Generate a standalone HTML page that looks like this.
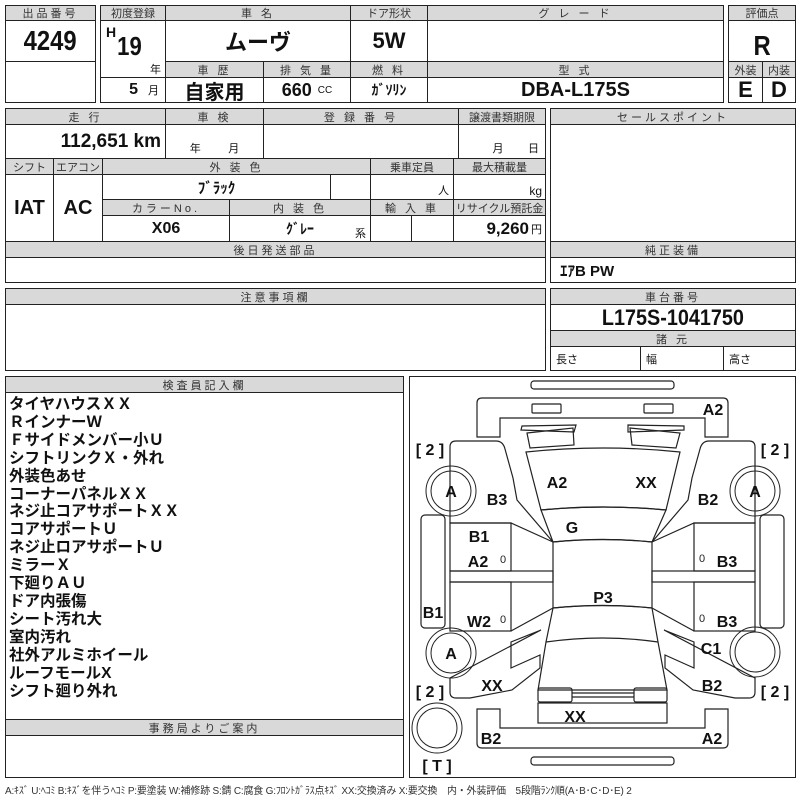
<!DOCTYPE html>
<html><head><meta charset="utf-8"><style>
*{margin:0;padding:0}
body{width:800px;height:800px;background:#fff;position:relative;overflow:hidden;font-family:"Liberation Sans","Noto Sans CJK JP",sans-serif;color:#111}
.c{position:absolute;border:1px solid #222;box-sizing:border-box;display:flex;align-items:center;justify-content:center;white-space:nowrap}
.h{background:#d9d9d9;font-size:11px;color:#333;letter-spacing:3px}
.v{font-weight:bold;font-size:20px}
.big{font-weight:bold;font-size:28px;transform:scaleX(.85)}
.t{position:absolute;white-space:nowrap}
.lst{position:absolute;left:9px;top:396px;font-size:15.5px;font-weight:bold;line-height:17.9px;font-family:"Liberation Sans","Noto Sans CJK JP",sans-serif}
</style></head><body>
<div class="c h" style="left:5px;top:5px;width:91px;height:16px">出品番号</div>
<div class="c" style="left:5px;top:20px;width:91px;height:42px"><span class="big">4249</span></div>
<div class="c" style="left:5px;top:61px;width:91px;height:42px"></div>
<div class="c h" style="left:100px;top:5px;width:66px;height:16px;letter-spacing:0">初度登録</div>
<div class="c h" style="left:165px;top:5px;width:186px;height:16px">車 名</div>
<div class="c h" style="left:350px;top:5px;width:78px;height:16px;letter-spacing:0">ドア形状</div>
<div class="c h" style="left:427px;top:5px;width:297px;height:16px">グ レ ー ド</div>
<div class="c" style="left:100px;top:20px;width:66px;height:58px"></div>
<div class="t" style="left:106px;top:24px;font-weight:bold;font-size:14px">H</div>
<div class="t" style="left:115px;top:31px;font-weight:bold;font-size:26px;transform:scaleX(.85)">19</div>
<div class="t" style="left:150px;top:61px;font-size:11px">年</div>
<div class="c" style="left:165px;top:20px;width:186px;height:42px"><span class="v" style="font-size:22px">ムーヴ</span></div>
<div class="c" style="left:350px;top:20px;width:78px;height:42px"><span class="v" style="font-size:22px">5W</span></div>
<div class="c" style="left:427px;top:20px;width:297px;height:42px"></div>
<div class="c h" style="left:165px;top:61px;width:99px;height:17px">車 歴</div>
<div class="c h" style="left:263px;top:61px;width:88px;height:17px">排 気 量</div>
<div class="c h" style="left:350px;top:61px;width:78px;height:17px">燃 料</div>
<div class="c h" style="left:427px;top:61px;width:297px;height:17px">型 式</div>
<div class="c" style="left:100px;top:77px;width:66px;height:26px;justify-content:flex-end;padding-right:6px"><span class="v" style="font-size:16px">5</span><span style="font-size:11px;margin-left:10px">月</span></div>
<div class="c" style="left:165px;top:77px;width:99px;height:26px"><span class="v">自家用</span></div>
<div class="c" style="left:263px;top:77px;width:88px;height:26px"><span class="v" style="font-size:18px">660</span><span style="font-size:10px;margin-left:6px">CC</span></div>
<div class="c" style="left:350px;top:77px;width:78px;height:26px"><span style="font-weight:bold;font-size:14px">ｶﾞｿﾘﾝ</span></div>
<div class="c" style="left:427px;top:77px;width:297px;height:26px"><span class="v">DBA-L175S</span></div>
<div class="c h" style="left:728px;top:5px;width:68px;height:16px;letter-spacing:0">評価点</div>
<div class="c" style="left:728px;top:20px;width:68px;height:42px;padding-top:10px"><span class="big">R</span></div>
<div class="c h" style="left:728px;top:61px;width:35px;height:17px;letter-spacing:0">外装</div>
<div class="c h" style="left:762px;top:61px;width:34px;height:17px;letter-spacing:0">内装</div>
<div class="c" style="left:728px;top:77px;width:35px;height:26px"><span class="v" style="font-size:22px">E</span></div>
<div class="c" style="left:762px;top:77px;width:34px;height:26px"><span class="v" style="font-size:22px">D</span></div>
<div class="c h" style="left:5px;top:108px;width:161px;height:17px">走 行</div>
<div class="c h" style="left:165px;top:108px;width:99px;height:17px">車 検</div>
<div class="c h" style="left:263px;top:108px;width:196px;height:17px">登 録 番 号</div>
<div class="c h" style="left:458px;top:108px;width:88px;height:17px;letter-spacing:0">譲渡書類期限</div>
<div class="c" style="left:5px;top:124px;width:161px;height:35px;justify-content:flex-end;padding-right:4px"><span class="v" style="font-size:19px">112,651 km</span></div>
<div class="c" style="left:165px;top:124px;width:99px;height:35px;align-items:flex-end;padding-bottom:2px;font-size:11px">年&nbsp;&nbsp;&nbsp;&nbsp;&nbsp;&nbsp;&nbsp;&nbsp;&nbsp;月</div>
<div class="c" style="left:263px;top:124px;width:196px;height:35px"></div>
<div class="c" style="left:458px;top:124px;width:88px;height:35px;align-items:flex-end;justify-content:flex-end;padding:0 6px 2px 0;font-size:11px">月&nbsp;&nbsp;&nbsp;&nbsp;&nbsp;&nbsp;&nbsp;&nbsp;日</div>
<div class="c h" style="left:5px;top:158px;width:49px;height:17px;letter-spacing:0">シフト</div>
<div class="c h" style="left:53px;top:158px;width:50px;height:17px;letter-spacing:0">エアコン</div>
<div class="c h" style="left:102px;top:158px;width:269px;height:17px">外 装 色</div>
<div class="c h" style="left:370px;top:158px;width:84px;height:17px;letter-spacing:0">乗車定員</div>
<div class="c h" style="left:453px;top:158px;width:93px;height:17px;letter-spacing:0">最大積載量</div>
<div class="c" style="left:5px;top:174px;width:49px;height:68px"><span class="v">IAT</span></div>
<div class="c" style="left:53px;top:174px;width:50px;height:68px"><span class="v">AC</span></div>
<div class="c" style="left:102px;top:174px;width:229px;height:26px"><span style="font-weight:bold;font-size:15px">ﾌﾞﾗｯｸ</span></div>
<div class="c" style="left:330px;top:174px;width:41px;height:26px"></div>
<div class="c" style="left:370px;top:174px;width:84px;height:26px;justify-content:flex-end;align-items:flex-end;padding:0 4px 1px 0;font-size:11px">人</div>
<div class="c" style="left:453px;top:174px;width:93px;height:26px;justify-content:flex-end;align-items:flex-end;padding:0 3px 1px 0;font-size:12px">kg</div>
<div class="c h" style="left:102px;top:199px;width:128px;height:17px">カラーNo.</div>
<div class="c h" style="left:229px;top:199px;width:142px;height:17px">内 装 色</div>
<div class="c h" style="left:370px;top:199px;width:84px;height:17px">輸 入 車</div>
<div class="c h" style="left:453px;top:199px;width:93px;height:17px;letter-spacing:0">リサイクル預託金</div>
<div class="c" style="left:102px;top:215px;width:128px;height:27px"><span style="font-weight:bold;font-size:16px">X06</span></div>
<div class="c" style="left:229px;top:215px;width:142px;height:27px"><span style="font-weight:bold;font-size:14px">ｸﾞﾚｰ</span></div>
<div class="t" style="left:355px;top:225px;font-size:11px">系</div>
<div class="c" style="left:370px;top:215px;width:42px;height:27px"></div>
<div class="c" style="left:411px;top:215px;width:43px;height:27px"></div>
<div class="c" style="left:453px;top:215px;width:93px;height:27px;justify-content:flex-end;padding-right:3px"><span class="v" style="font-size:17px">9,260</span><span style="font-size:11px;margin-left:2px">円</span></div>
<div class="c h" style="left:5px;top:241px;width:541px;height:17px">後日発送部品</div>
<div class="c" style="left:5px;top:257px;width:541px;height:26px"></div>
<div class="c h" style="left:550px;top:108px;width:246px;height:17px">セールスポイント</div>
<div class="c" style="left:550px;top:124px;width:246px;height:118px"></div>
<div class="c h" style="left:550px;top:241px;width:246px;height:17px">純正装備</div>
<div class="c" style="left:550px;top:257px;width:246px;height:26px;justify-content:flex-start;padding-left:9px"><span style="font-weight:bold;font-size:15px">ｴｱB PW</span></div>
<div class="c h" style="left:5px;top:288px;width:541px;height:17px">注意事項欄</div>
<div class="c" style="left:5px;top:304px;width:541px;height:67px"></div>
<div class="c h" style="left:550px;top:288px;width:246px;height:17px">車台番号</div>
<div class="c" style="left:550px;top:304px;width:246px;height:27px"><span class="v" style="font-size:22px;transform:scaleX(.9)">L175S-1041750</span></div>
<div class="c h" style="left:550px;top:330px;width:246px;height:17px">諸 元</div>
<div class="c" style="left:550px;top:346px;width:91px;height:25px;justify-content:flex-start;padding-left:5px;font-size:11px">長さ</div>
<div class="c" style="left:640px;top:346px;width:84px;height:25px;justify-content:flex-start;padding-left:5px;font-size:11px">幅</div>
<div class="c" style="left:723px;top:346px;width:73px;height:25px;justify-content:flex-start;padding-left:5px;font-size:11px">高さ</div>
<div class="c h" style="left:5px;top:376px;width:399px;height:17px">検査員記入欄</div>
<div class="c" style="left:5px;top:392px;width:399px;height:328px"></div>
<div class="lst">タイヤハウスＸＸ<br>Ｒインナー<span>Ｗ</span><br>Ｆサイドメンバー小Ｕ<br>シフトリンクＸ・外れ<br>外装色あせ<br>コーナーパネルＸＸ<br>ネジ止コアサポートＸＸ<br>コアサポートＵ<br>ネジ止ロアサポートＵ<br>ミラーＸ<br>下廻りＡＵ<br>ドア内張傷<br>シート汚れ大<br>室内汚れ<br>社外アルミホイール<br>ルーフモールX<br>シフト廻り外れ</div>
<div class="c h" style="left:5px;top:719px;width:399px;height:17px">事務局よりご案内</div>
<div class="c" style="left:5px;top:735px;width:399px;height:43px"></div>
<div class="c" style="left:409px;top:376px;width:387px;height:402px"></div>
<div class="t" style="left:5px;top:782px;font-size:10px;color:#333;letter-spacing:-0.2px">A:ｷｽﾞ U:ﾍｺﾐ B:ｷｽﾞを伴うﾍｺﾐ P:要塗装 W:補修跡 S:錆 C:腐食 G:ﾌﾛﾝﾄｶﾞﾗｽ点ｷｽﾞ XX:交換済み X:要交換　内・外装評価　5段階ﾗﾝｸ順(A･B･C･D･E) 2</div>
<svg style="position:absolute;left:0;top:0" width="800" height="800" viewBox="0 0 800 800" fill="none" stroke="#222" stroke-width="1.2">
<rect x="531" y="381" width="143" height="8" rx="3"/>
<path d="M477,437 V403 q0,-5 5,-5 H723 q5,0 5,5 V437 H705 V418 H500 V437 Z"/>
<rect x="532" y="404" width="29" height="9" rx="1"/>
<rect x="644" y="404" width="29" height="9" rx="1"/>
<path d="M522,426 L576,425 L574,432 L521,430 Z"/>
<path d="M527,433 L573,428 L574,445 L530,448 Z"/>
<path d="M628,425 L684,426 L684,430 L628,432 Z"/>
<path d="M630,428 L680,433 L676,448 L632,445 Z"/>
<path d="M526,452 Q603,444 680,452 L666,510 Q603,504 541,510 Z"/>
<path d="M541,510 Q603,504 666,510 L652,542 Q603,537 553,542 Z"/>
<path d="M553,542 Q603,537 652,542 L652,608 Q603,603 553,608 Z"/>
<path d="M553,608 Q603,603 652,608 L658,642 L667,690 L538,690 L546,642 Z"/>
<path d="M546,642 Q603,634 658,642"/>
<path d="M450,465 V447 q0,-6 6,-6 H496 q7,0 9,8 L513,478 L517,500 L553,542 L511,523 H450 Z"/>
<path d="M755,465 V447 q0,-6 -6,-6 H709 q-7,0 -9,8 L692,478 L688,500 L652,542 L694,523 H755 Z"/>
<rect x="450" y="523" width="61" height="48"/><rect x="450" y="571" width="103" height="11"/><rect x="450" y="582" width="61" height="49"/>
<path d="M511,631 L553,608"/>
<rect x="694" y="523" width="61" height="48"/><rect x="652" y="571" width="103" height="11"/><rect x="694" y="582" width="61" height="49"/>
<path d="M694,631 L652,608"/>
<rect x="421" y="515" width="24" height="113" rx="4"/><rect x="760" y="515" width="24" height="113" rx="4"/>
<path d="M450,678 V692 q0,6 6,6 H470 L512,690 L540,668 V655 L511,668 V642 L541,630 Z" />
<path d="M755,678 V692 q0,6 -6,6 H735 L693,690 L665,668 V655 L694,668 V642 L664,630 Z"/>
<path d="M477,709 H500 V728 H705 V709 H728 V743 q0,5 -5,5 H482 q-5,0 -5,-5 Z"/>
<rect x="538" y="688" width="34" height="14" rx="2"/><rect x="634" y="688" width="33" height="14" rx="2"/>
<path d="M572,693 H634 M572,697 H634"/>
<rect x="538" y="703" width="129" height="20"/>
<rect x="531" y="757" width="143" height="8" rx="3"/>
<g stroke-width="1"><circle cx="451" cy="491" r="25"/><circle cx="451" cy="491" r="20"/>
<circle cx="755" cy="491" r="25"/><circle cx="755" cy="491" r="20"/>
<circle cx="451" cy="653" r="25"/><circle cx="451" cy="653" r="20"/>
<circle cx="755" cy="652" r="25"/><circle cx="755" cy="652" r="20"/>
<circle cx="437" cy="728" r="25"/><circle cx="437" cy="728" r="20"/></g>
<g fill="#111" stroke="none" font-family="Liberation Sans, sans-serif" font-weight="bold" font-size="16" text-anchor="middle">
<text x="713" y="415">A2</text><text x="557" y="488">A2</text><text x="646" y="488">XX</text>
<text x="497" y="505">B3</text><text x="708" y="505">B2</text>
<text x="451" y="497">A</text><text x="755" y="497">A</text><text x="451" y="659">A</text>
<text x="572" y="533">G</text><text x="479" y="542">B1</text><text x="478" y="567">A2</text>
<text x="727" y="567">B3</text><text x="603" y="603">P3</text><text x="433" y="618">B1</text>
<text x="479" y="627">W2</text><text x="727" y="627">B3</text><text x="711" y="654">C1</text>
<text x="492" y="691">XX</text><text x="712" y="691">B2</text><text x="575" y="722">XX</text>
<text x="491" y="744">B2</text><text x="712" y="744">A2</text>
<text x="430" y="455">[ 2 ]</text><text x="775" y="455">[ 2 ]</text><text x="430" y="697">[ 2 ]</text><text x="775" y="697">[ 2 ]</text>
<text x="437" y="771">[ T ]</text>
</g>
<g fill="#222" stroke="none" font-family="Liberation Sans, sans-serif" font-size="11" text-anchor="middle">
<text x="503" y="563">0</text><text x="702" y="562">0</text><text x="503" y="623">0</text><text x="702" y="622">0</text></g>
</svg>
</body></html>
